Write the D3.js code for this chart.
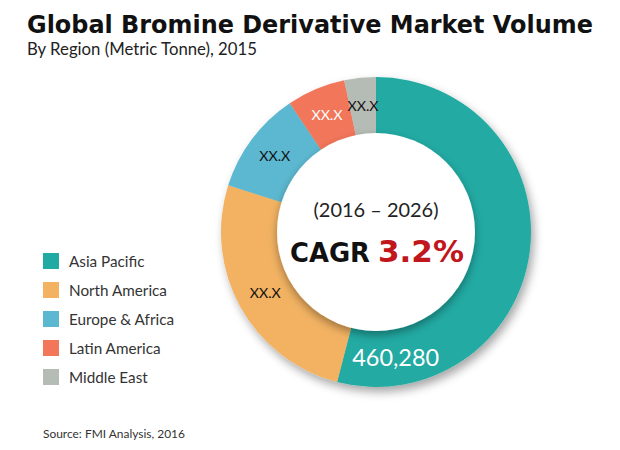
<!DOCTYPE html>
<html>
<head>
<meta charset="utf-8">
<script src="https://cdn.jsdelivr.net/npm/d3@7"></script>
<style>
  html, body { margin: 0; padding: 0; background: #fff; }
  svg { display: block; }
  text { font-family: Lato, "Open Sans", sans-serif; }
  text.heavy { font-family: "DejaVu Sans", Lato, sans-serif; }
</style>
</head>
<body>
<svg id="chart" width="620" height="450"></svg>
<script>
// ---- data ----
const regions = ["Asia Pacific", "North America", "Europe & Africa", "Latin America", "Middle East"];
const volumes = [460280, 220000, 91500, 52000, 28000];
const sliceLabels = ["460,280", "XX.X", "XX.X", "XX.X", "XX.X"];
const labelColors = ["#ffffff", "#111111", "#111111", "#ffffff", "#111111"];
const colors = ["#21aaa3", "#f2b262", "#5cb8d0", "#f2765a", "#b5bcb5"];
const titleText = "Global Bromine Derivative Market Volume";
const subtitleText = "By Region (Metric Tonne), 2015";
const periodText = "(2016 \u2013 2026)";
const cagrLabel = "CAGR";
const cagrValue = "3.2%";
const sourceText = "Source: FMI Analysis, 2016";

const svg = d3.select("#chart");
const defs = svg.append("defs");
defs.append("filter").attr("id", "ringShadow")
  .attr("x", "-20%").attr("y", "-20%").attr("width", "140%").attr("height", "140%")
  .append("feDropShadow").attr("dx", 3).attr("dy", 5).attr("stdDeviation", 5)
  .attr("flood-color", "#000").attr("flood-opacity", 0.35);
defs.append("filter").attr("id", "holeShadow")
  .attr("x", "-20%").attr("y", "-20%").attr("width", "140%").attr("height", "140%")
  .append("feDropShadow").attr("dx", 0).attr("dy", 4).attr("stdDeviation", 4)
  .attr("flood-color", "#000").attr("flood-opacity", 0.35);

// fit text to a target width by adjusting font-size
function fit(sel, width) {
  const node = sel.node();
  const fs = parseFloat(sel.attr("font-size"));
  const w = node.getComputedTextLength();
  sel.attr("font-size", (fs * width / w).toFixed(2));
  return sel;
}

// ---- titles ----
fit(svg.append("text").attr("class", "heavy").attr("x", 27).attr("y", 33).attr("font-size", 22)
  .attr("font-weight", 700).attr("fill", "#111").text(titleText), 566);
fit(svg.append("text").attr("x", 27).attr("y", 55).attr("font-size", 17)
  .attr("fill", "#222").text(subtitleText), 230);

// ---- donut ----
const cx = 376, cy = 232, R = 155, r0 = 98;
const pie = d3.pie().sort(null).value(d => d.v);
const arcs = pie(regions.map((name, i) => ({ name, v: volumes[i], i })));
const arc = d3.arc().innerRadius(r0).outerRadius(R);
const g = svg.append("g").attr("transform", `translate(${cx},${cy})`);

g.append("g").attr("filter", "url(#ringShadow)")
  .selectAll("path").data(arcs).join("path")
  .attr("d", arc).attr("fill", d => colors[d.data.i]);

g.append("circle").attr("r", r0 + 1).attr("fill", "#fff").attr("filter", "url(#holeShadow)");

// slice labels
const midR = (r0 + R) / 2;
const labelArc = d3.arc().innerRadius(midR).outerRadius(midR);
const sl = g.selectAll("text.slice").data(arcs.slice(1)).join("text")
  .attr("class", "slice")
  .attr("transform", d => {
    const c = labelArc.centroid(d);
    return `translate(${c[0]},${c[1] + 5})`;
  })
  .attr("text-anchor", "middle").attr("font-size", 13)
  .attr("fill", d => labelColors[d.data.i])
  .text(d => sliceLabels[d.data.i]);
const slfs = 13 * 31 / sl.node().getComputedTextLength();
sl.attr("font-size", slfs.toFixed(2));

// main value label near the end of the Asia Pacific slice
const ap = arcs[0];
const apAngle = ap.endAngle - 0.41;
const apPos = labelArc.centroid({ startAngle: apAngle, endAngle: apAngle });
fit(g.append("text").attr("x", apPos[0]).attr("y", apPos[1] + 9)
  .attr("text-anchor", "middle").attr("font-size", 25).attr("fill", "#fff")
  .text(sliceLabels[0]), 87);

// centre text
fit(g.append("text").attr("x", 0).attr("y", 217 - cy).attr("text-anchor", "middle")
  .attr("font-size", 20).attr("fill", "#222").text(periodText), 125);
const cagr = g.append("text").attr("class", "heavy").attr("x", 290 - cx).attr("y", 262 - cy)
  .attr("font-size", 22).attr("font-weight", 700).attr("fill", "#111").text(cagrLabel);
fit(cagr, 80);
const val = g.append("text").attr("class", "heavy").attr("x", 378 - cx).attr("y", 262 - cy)
  .attr("font-size", 30).attr("font-weight", 700).attr("fill", "#c0161c").text(cagrValue);
fit(val, 86);

// ---- legend ----
const legend = svg.append("g").attr("transform", "translate(43,253)");
const rows = legend.selectAll("g").data(regions).join("g")
  .attr("transform", (d, i) => `translate(0,${i * 29})`);
rows.append("rect").attr("width", 16).attr("height", 16).attr("fill", (d, i) => colors[i]);
const legText = rows.append("text").attr("x", 26).attr("y", 13.5)
  .attr("font-size", 14).attr("fill", "#333").text(d => d);
// fit by "North America"
const naNode = legText.filter((d, i) => i === 1);
const fsNA = 14 * 98 / naNode.node().getComputedTextLength();
legText.attr("font-size", fsNA.toFixed(2));

// ---- source ----
fit(svg.append("text").attr("x", 43).attr("y", 438).attr("font-size", 11)
  .attr("fill", "#333").text(sourceText), 142);
</script>
</body>
</html>
